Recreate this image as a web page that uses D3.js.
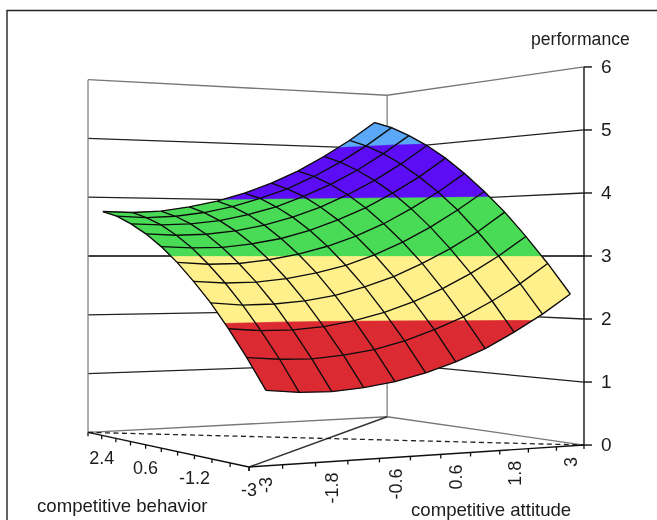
<!DOCTYPE html>
<html>
<head>
<meta charset="utf-8">
<title>Performance surface</title>
<script src="https://d3js.org/d3.v7.min.js"></script>
<style>
  html, body { margin: 0; padding: 0; background: #fff; overflow: hidden; }
  text { font-family: "Liberation Sans", Arial, sans-serif; fill: #1c1c1c; }
</style>
</head>
<body>
<svg id="root" width="657" height="520"></svg>
<script>
// grid of the surface
var attitudeGrid = [-3, -2.4, -1.8, -1.2, -0.6, 0, 0.6, 1.2, 1.8, 2.4, 3];
var behaviorGrid = [-3, -2.4, -1.8, -1.2, -0.6, 0, 0.6, 1.2, 1.8, 2.4, 3];

// performance, one row per behavior value, one column per attitude value
var performance = [
  [1.08, 1.03, 1.02, 1.06, 1.13, 1.24, 1.39, 1.58, 1.82, 2.09, 2.40],
  [1.52, 1.48, 1.47, 1.51, 1.58, 1.70, 1.86, 2.05, 2.29, 2.56, 2.88],
  [1.92, 1.88, 1.88, 1.92, 2.00, 2.12, 2.28, 2.48, 2.72, 3.00, 3.32],
  [2.29, 2.25, 2.26, 2.30, 2.38, 2.51, 2.67, 2.88, 3.12, 3.40, 3.73],
  [2.61, 2.58, 2.59, 2.64, 2.73, 2.85, 3.02, 3.23, 3.48, 3.77, 4.09],
  [2.90, 2.87, 2.88, 2.94, 3.03, 3.16, 3.33, 3.54, 3.80, 4.09, 4.42],
  [3.15, 3.13, 3.14, 3.20, 3.29, 3.43, 3.61, 3.82, 4.08, 4.37, 4.71],
  [3.36, 3.34, 3.36, 3.42, 3.52, 3.66, 3.84, 4.06, 4.32, 4.62, 4.96],
  [3.53, 3.52, 3.54, 3.60, 3.71, 3.85, 4.04, 4.26, 4.52, 4.83, 5.17],
  [3.67, 3.65, 3.68, 3.75, 3.86, 4.01, 4.19, 4.42, 4.69, 5.00, 5.35],
  [3.76, 3.75, 3.78, 3.86, 3.97, 4.12, 4.31, 4.54, 4.82, 5.13, 5.48]
];

// colour bands and axis labels
var bandLevels = [1, 2, 3, 4, 5];
var bandColors = ['#dc2a32', '#fff08c', '#4adb55', '#5b10f5', '#5aa8f7'];
var performanceTicks = [0, 1, 2, 3, 4, 5, 6];
var attitudeLabels = [-3, -1.8, -0.6, 0.6, 1.8, 3];
var behaviorLabels = [-3, -1.2, 0.6, 2.4];
var attitudeTicks = [-3.3, -2.7, -2.1, -1.5, -0.9, -0.3, 0.3, 0.9, 1.5, 2.1, 2.7, 3.3];

// perspective box: u runs along attitude, v along behavior, eye level at performance 3
var uScale = d3.scaleLinear().domain([-3.3, 3.3]).range([0, 1]);
var vScale = d3.scaleLinear().domain([-3, 3]).range([0, 1]);
var horizon = 256;

function project(att, beh, z) {
  var u = uScale(att), v = vScale(beh);
  var d = 0.01422 + 0.00165 * u + 0.00279 * v;
  return [(3.541 + 5.727 * u - 2.044 * v) / d, horizon + (3 - z) / d];
}

var svg = d3.select('#root');
var defs = svg.append('defs');
defs.append('filter').attr('id', 'soft')
  .attr('x', 0).attr('y', 0).attr('width', 1).attr('height', 1)
  .attr('filterUnits', 'objectBoundingBox')
  .append('feGaussianBlur').attr('stdDeviation', 0.5);

var g = svg.append('g').attr('filter', 'url(#soft)');
g.append('rect').attr('width', 657).attr('height', 520).attr('fill', '#fff');

var line = d3.line();

// frame around the picture
g.append('path')
  .attr('d', line([[7, 520], [7, 10.5], [657, 10.5]]))
  .attr('fill', 'none').attr('stroke', '#222').attr('stroke-width', 1.4);

// back walls
performanceTicks.forEach(function (z) {
  g.append('path')
    .attr('d', line([project(-3.3, 3, z), project(3.3, 3, z), project(3.3, -3, z)]))
    .attr('fill', 'none')
    .attr('stroke', z === 3 ? '#000' : (z === 6 || z === 0 ? '#777' : '#222'))
    .attr('stroke-width', z === 3 ? 1.5 : 1.3);
});
[[-3.3, 3], [3.3, 3]].forEach(function (c) {
  g.append('path')
    .attr('d', line([project(c[0], c[1], 0), project(c[0], c[1], 6)]))
    .attr('fill', 'none').attr('stroke', '#808080').attr('stroke-width', 1.3);
});
g.append('path')
  .attr('d', line([project(3.3, -3, 0), project(3.3, -3, 6)]))
  .attr('fill', 'none').attr('stroke', '#222').attr('stroke-width', 1.5);

// floor: diagonals and front axes
g.append('path')
  .attr('d', line([project(-3.3, -3, 0), project(3.3, 3, 0)]))
  .attr('fill', 'none').attr('stroke', '#333').attr('stroke-width', 1.4);
g.append('path')
  .attr('d', line([project(-3.3, 3, 0), project(3.3, -3, 0)]))
  .attr('fill', 'none').attr('stroke', '#222').attr('stroke-width', 1.3)
  .attr('stroke-dasharray', '5,3.5');
g.append('path')
  .attr('d', line([project(-3.3, -3, 0), project(3.3, -3, 0)]))
  .attr('fill', 'none').attr('stroke', '#111').attr('stroke-width', 1.4);
g.append('path')
  .attr('d', line([project(-3.3, -3, 0), project(-3.3, 3, 0)]))
  .attr('fill', 'none').attr('stroke', '#111').attr('stroke-width', 1.4);

attitudeTicks.forEach(function (a) {
  var p = project(a, -3, 0);
  g.append('path').attr('d', line([p, [p[0], p[1] + 4]]))
    .attr('stroke', '#111').attr('stroke-width', 1.3);
});
behaviorGrid.forEach(function (b) {
  var p = project(-3.3, b, 0);
  g.append('path').attr('d', line([p, [p[0], p[1] + 4]]))
    .attr('stroke', '#111').attr('stroke-width', 1.3);
});

// coloured bands come from d3.contours over the grid, then get projected
var nx = attitudeGrid.length, ny = behaviorGrid.length;
var flat = d3.merge(performance);
var iAtt = d3.scaleLinear().domain(d3.range(nx)).range(attitudeGrid);
var iBeh = d3.scaleLinear().domain(d3.range(ny)).range(behaviorGrid);

function zAt(fi, fj) {
  var i0 = Math.min(Math.floor(fi), nx - 2), j0 = Math.min(Math.floor(fj), ny - 2);
  var s = fi - i0, t = fj - j0;
  return (1 - t) * ((1 - s) * performance[j0][i0] + s * performance[j0][i0 + 1]) +
    t * ((1 - s) * performance[j0 + 1][i0] + s * performance[j0 + 1][i0 + 1]);
}

var surfacePath = d3.geoPath(d3.geoTransform({
  point: function (x, y) {
    var fi = Math.max(0, Math.min(nx - 1, x - 0.5));
    var fj = Math.max(0, Math.min(ny - 1, y - 0.5));
    var p = project(iAtt(fi), iBeh(fj), zAt(fi, fj));
    this.stream.point(p[0], p[1]);
  }
}));

var bands = d3.contours().size([nx, ny]).thresholds(bandLevels)(flat);
g.append('g').selectAll('path')
  .data(bands)
  .enter().append('path')
  .attr('d', surfacePath)
  .attr('fill', function (d, i) { return bandColors[i]; })
  .attr('stroke', function (d, i) { return bandColors[i]; })
  .attr('stroke-width', 0.3);

// mesh lines
var mesh = g.append('g').attr('fill', 'none').attr('stroke', '#0c0c0c').attr('stroke-width', 1.35);
behaviorGrid.forEach(function (b, j) {
  mesh.append('path').attr('d', line(attitudeGrid.map(function (a, i) {
    return project(a, b, performance[j][i]);
  })));
});
attitudeGrid.forEach(function (a, i) {
  mesh.append('path').attr('d', line(behaviorGrid.map(function (b, j) {
    return project(a, b, performance[j][i]);
  })));
});

// performance axis
performanceTicks.forEach(function (z) {
  var p = project(3.3, -3, z);
  g.append('path').attr('d', line([p, [p[0] + 8, p[1]]]))
    .attr('stroke', '#111').attr('stroke-width', 1.4);
  g.append('text').attr('x', p[0] + 17).attr('y', p[1] + 6)
    .attr('font-size', 19).text(z);
});
g.append('text').attr('x', 531).attr('y', 45).attr('font-size', 17.6).text('performance');

// behavior labels stay horizontal
behaviorLabels.forEach(function (b) {
  var p = project(-3.3, b, 0);
  g.append('text').attr('x', p[0]).attr('y', p[1] + 29)
    .attr('text-anchor', 'middle').attr('font-size', 18).text(b);
});
// attitude labels are turned and hang under the axis
attitudeLabels.forEach(function (a) {
  var p = project(a, -3, 0);
  g.append('text')
    .attr('transform', 'translate(' + (p[0] + 6.5) + ',' + (p[1] + 11) + ') rotate(-90)')
    .attr('text-anchor', 'end').attr('font-size', 18).text(a);
});

g.append('text').attr('x', 37).attr('y', 512).attr('font-size', 18.6).text('competitive behavior');
g.append('text').attr('x', 411).attr('y', 515.5).attr('font-size', 18.6).text('competitive attitude');
</script>
</body>
</html>
